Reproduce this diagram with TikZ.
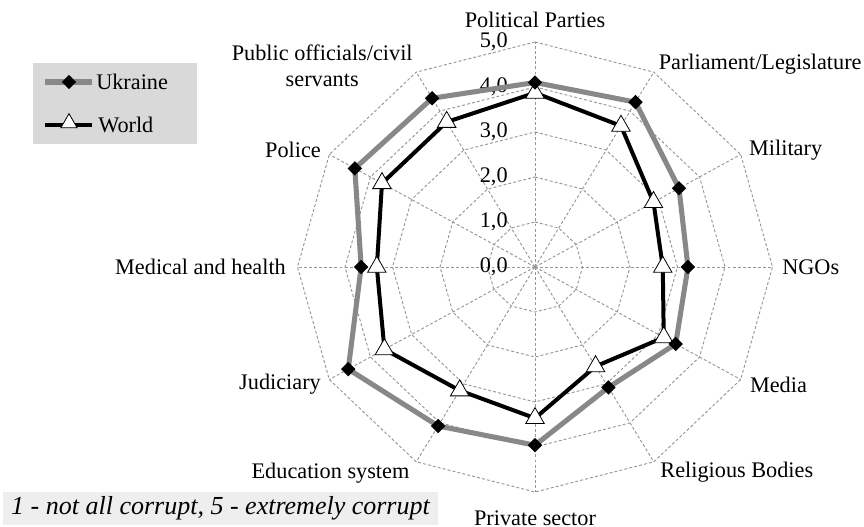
\documentclass[tikz,border=0pt]{standalone}
\usepackage{fontspec}
\setmainfont{Liberation Serif}
\usetikzlibrary{shapes.geometric, positioning}
\definecolor{GridGray}{RGB}{150, 150, 150}
\definecolor{UkraineGray}{RGB}{136, 136, 136}
\definecolor{LegendFill}{RGB}{217, 217, 217}
\definecolor{NoteFill}{RGB}{238, 238, 238}
\newcommand{\chartfont}{\fontsize{16.7}{19.5}\selectfont}

\tikzset{
    gridline/.style={GridGray, line width=0.7pt, dash pattern=on 2.2pt off 1.6pt},
    ukrline/.style={UkraineGray, line width=3.8pt, line join=round},
    worldline/.style={black, line width=3pt, line join=round},
    ukrmark/.style={diamond, fill=black, inner sep=0pt, minimum size=11pt},
    worldmark/.style={regular polygon, regular polygon sides=3, draw=black, line width=0.6pt, fill=white, inner sep=0pt, minimum size=16pt},
    axislabel/.style={font=\chartfont, inner sep=0pt, align=center},
}

\begin{document}
\begin{tikzpicture}[x=0.75pt, y=0.75pt]
    \useasboundingbox (0,0) rectangle (864,-527);

    % radar chart, one unit = one score step
    \begin{scope}[shift={(535,-267)}, x=35.625pt, y=33.75pt]
        \coordinate (O) at (0,0);
        \foreach \a [count=\i from 0] in {90,60,...,-240}
            \coordinate (rim\i) at (\a:5);

        % rings and spokes
        \foreach \r in {1,...,5}
            \draw[gridline] (90:\r) \foreach \a in {60,30,...,-240} { -- (\a:\r) } -- cycle;
        \foreach \i in {0,...,11}
            \draw[gridline] (O) -- (rim\i);

        % scale
        \foreach \v in {0,...,5}
            \node[axislabel, anchor=east] (scale\v) at (-0.57,\v) {\v,0};

        % category labels
        \node[axislabel] (parties) at (90:5.5) {Political Parties};
        \node[axislabel, anchor=west] (parliament) at (60:5.2) {Parliament/Legislature};
        \node[axislabel, anchor=west] (military) at (30:5.2) {Military};
        \node[axislabel, anchor=west] (ngos) at (0:5.2) {NGOs};
        \node[axislabel, anchor=west] (media) at (-30:5.22) {Media};
        \node[axislabel, anchor=west] (religious) at (-60:5.27) {Religious Bodies};
        \node[axislabel] (private) at (-90:5.58) {Private sector};
        \node[axislabel, anchor=east] (education) at (-120:5.28) {Education system};
        \node[axislabel, anchor=east] (judiciary) at (-150:5.2) {Judiciary};
        \node[axislabel, anchor=east] (medical) at (180:5.24) {Medical and health};
        \node[axislabel, anchor=east] (police) at (150:5.2) {Police};
        \node[axislabel] (officials) at (-4.48,4.47) {Public officials/civil\\servants};

        % World
        \foreach \v [count=\i from 0] in {3.87,3.62,2.88,2.69,3.13,2.55,3.36,3.17,3.66,3.33,3.72,3.72}
            \coordinate (wd\i) at ({90-30*\i}:\v);
        \draw[worldline] (wd0) \foreach \i in {1,...,11} { -- (wd\i) } -- cycle;
        \foreach \i in {0,...,11}
            \node[worldmark] (wm\i) at (wd\i) {};

        % Ukraine
        \foreach \v [count=\i from 0] in {4.1,4.23,3.5,3.22,3.42,3.09,3.96,4.08,4.54,3.66,4.38,4.33}
            \coordinate (ua\i) at ({90-30*\i}:\v);
        \draw[ukrline] (ua0) \foreach \i in {1,...,11} { -- (ua\i) } -- cycle;
        \foreach \i in {0,...,11}
            \node[ukrmark] (um\i) at (ua\i) {};
    \end{scope}

    % legend
    \node[fill=LegendFill, anchor=north west, minimum width=123pt, minimum height=60.75pt, inner sep=0pt] (legend) at (33,-63) {};
    \coordinate (ukrA) at (45,-82);
    \coordinate (ukrB) at (92,-82);
    \draw[ukrline] (ukrA) -- (ukrB);
    \node[ukrmark] (ukrkey) at (69,-82) {};
    \node[axislabel, anchor=west] (ukrtext) at (96,-82) {Ukraine};
    \coordinate (wldA) at (45,-125);
    \coordinate (wldB) at (92,-125);
    \draw[worldline] (wldA) -- (wldB);
    \node[worldmark, minimum size=14pt] (wldkey) at (69,-123) {};
    \node[axislabel, anchor=west] (wldtext) at (98,-125) {World};

    % scale note
    \node[fill=NoteFill, minimum width=326pt, minimum height=24.75pt, inner sep=0pt, font=\fontsize{19.5}{22}\selectfont\itshape] (note) at (220.5,-508.5) {1 - not all corrupt, 5 - extremely corrupt};
\end{tikzpicture}
\end{document}
